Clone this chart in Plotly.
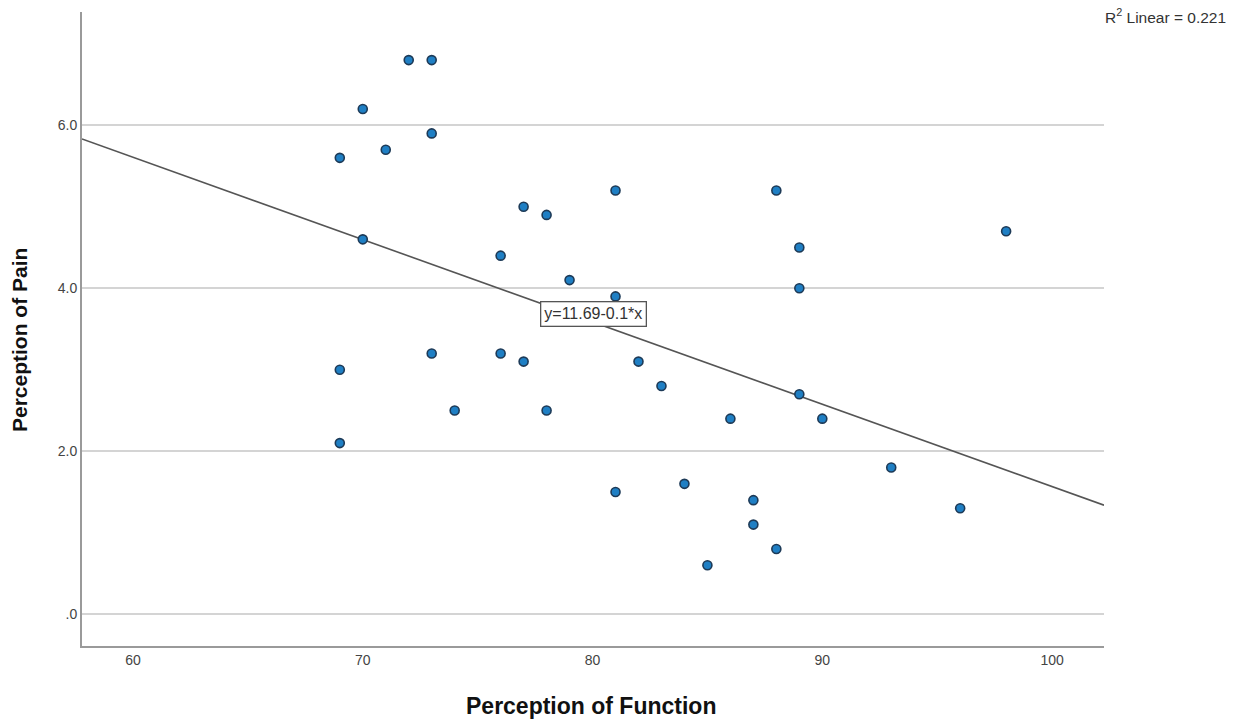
import numpy as np
import plotly.graph_objects as go

function_scores = [72, 73, 70, 73, 69, 71, 70, 77, 78, 81, 88, 76, 79, 81, 89, 89, 98,
                   73, 76, 77, 69, 82, 83, 74, 78, 86, 89, 90, 69, 93, 81, 84, 87, 87, 88, 85, 96]
pain_scores = [6.8, 6.8, 6.2, 5.9, 5.6, 5.7, 4.6, 5.0, 4.9, 5.2, 5.2, 4.4, 4.1, 3.9, 4.5, 4.0, 4.7,
               3.2, 3.2, 3.1, 3.0, 3.1, 2.8, 2.5, 2.5, 2.4, 2.7, 2.4, 2.1, 1.8, 1.5, 1.6, 1.4, 1.1, 0.8, 0.6, 1.3]

fit_label = "y=11.69-0.1*x"
r2_label = "R<sup>2</sup> Linear = 0.221"

x_range = [57.78, 102.26]
y_range = [-0.39, 7.39]
y_ticks = [0, 2, 4, 6]
y_tick_labels = [".0", "2.0", "4.0", "6.0"]
x_ticks = [60, 70, 80, 90, 100]
x_tick_labels = ["60", "70", "80", "90", "100"]

font_family = "Liberation Sans, Arial, sans-serif"

W, H = 1239, 721
ML, MR, MT, MB = 82, 135, 12, 75
PW, PH = W - ML - MR, H - MT - MB

slope, intercept = np.polyfit(function_scores, pain_scores, 1)

fig = go.Figure()

line_x = np.array(x_range)
line_y = intercept + slope * line_x
fig.add_trace(go.Scatter(x=line_x, y=line_y, mode="lines",
                         line=dict(color="#555555", width=1.6), hoverinfo="skip",
                         showlegend=False))

fig.add_trace(go.Scatter(x=function_scores, y=pain_scores, mode="markers",
                         marker=dict(size=9, color="#1f7fc4",
                                     line=dict(color="#1d3a57", width=1.6)),
                         showlegend=False))

fig.add_annotation(x=80.02, y=3.68, text=fit_label,
                   showarrow=False, font=dict(family=font_family, size=16, color="#333333"),
                   bgcolor="white", bordercolor="#555555", borderwidth=1.3, borderpad=3)

fig.add_annotation(x=(1228 - ML) / PW, y=1 - (16 - MT) / PH,
                   xref="paper", yref="paper", xanchor="right", yanchor="middle",
                   text=r2_label, showarrow=False,
                   font=dict(family=font_family, size=15.5, color="#333333"))
fig.add_annotation(x=(591 - ML) / PW, y=-(706 - (H - MB)) / PH,
                   xref="paper", yref="paper", xanchor="center", yanchor="middle",
                   text="<b>Perception of Function</b>", showarrow=False,
                   font=dict(family=font_family, size=23, color="#111111"))
fig.add_annotation(x=-(ML - 19) / PW, y=((H - MB) - 340) / PH,
                   xref="paper", yref="paper", xanchor="center", yanchor="middle",
                   text="<b>Perception of Pain</b>", showarrow=False, textangle=-90,
                   font=dict(family=font_family, size=21, color="#111111"))

fig.update_layout(
    width=W, height=H,
    margin=dict(l=ML, r=MR, t=MT, b=MB),
    paper_bgcolor="white", plot_bgcolor="white",
    font=dict(family=font_family),
    xaxis=dict(range=x_range, tickvals=x_ticks, ticktext=x_tick_labels,
               showgrid=False, zeroline=False, showline=True, linecolor="#9a9a9a", linewidth=2,
               ticks="", tickfont=dict(size=14, color="#444444"), automargin=False),
    yaxis=dict(range=y_range, tickvals=y_ticks, ticktext=y_tick_labels,
               showgrid=True, gridcolor="#d4d4d4", gridwidth=2, zeroline=False,
               showline=True, linecolor="#9a9a9a", linewidth=2,
               ticks="", tickfont=dict(size=14, color="#444444"), automargin=False),
)

fig.write_html("out.html", config={"displayModeBar": False},
               post_script="document.body.style.margin='0';")
